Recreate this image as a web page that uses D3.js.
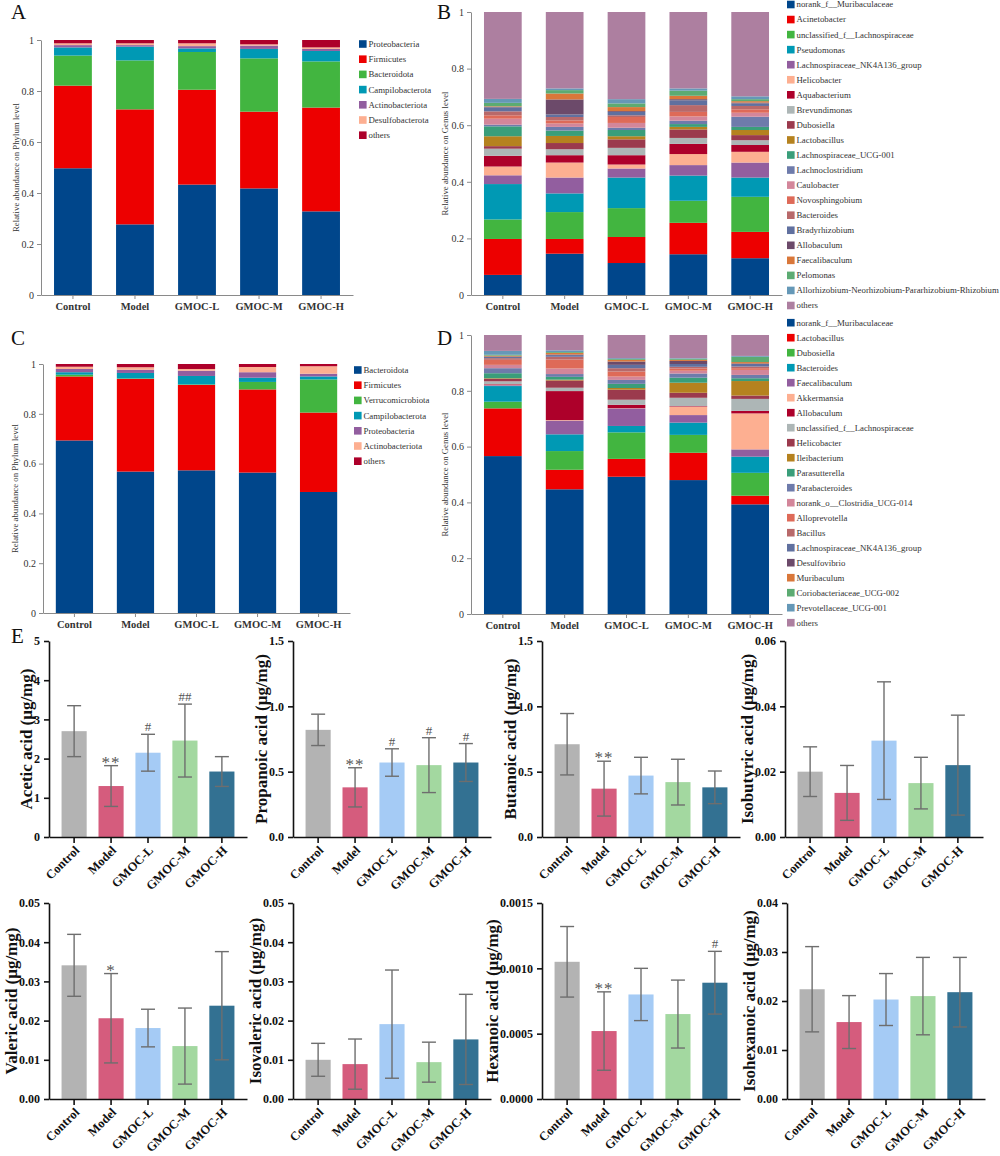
<!DOCTYPE html>
<html>
<head>
<meta charset="utf-8">
<script src="https://cdn.jsdelivr.net/npm/d3@7"></script>
<style>
body{margin:0;background:#fff}
text{font-family:"Liberation Serif","Times New Roman",serif}
</style>
</head>
<body>
<div class="fig"></div>
<script>
const groups = ['Control','Model','GMOC-L','GMOC-M','GMOC-H']

const palette = ['#00468B','#ED0000','#42B540','#0099B4','#925E9F','#FDAF91','#AD002A','#ADB6B6',
  '#9B3A4D','#B5821F','#3A9E7A','#6E7BAB','#D3869A','#DE6A58','#B8696A','#60709F',
  '#6C4A6A','#D9773A','#5CAB72','#6598B7','#AD7FA0']

// panel A - phylum
const phylumA = ['Proteobacteria','Firmicutes','Bacteroidota','Campilobacterota','Actinobacteriota','Desulfobacterota','others']
const phylumAValues = [
  [0.497,0.324,0.118,0.032,0.009,0.007,0.013],
  [0.277,0.451,0.192,0.054,0.006,0.007,0.013],
  [0.433,0.372,0.148,0.014,0.009,0.011,0.013],
  [0.418,0.301,0.209,0.037,0.013,0.005,0.017],
  [0.328,0.407,0.181,0.041,0.008,0.006,0.029]
]

// panel B - genus
const genusB = ['norank_f__Muribaculaceae','Acinetobacter','unclassified_f__Lachnospiraceae','Pseudomonas',
  'Lachnospiraceae_NK4A136_group','Helicobacter','Aquabacterium','Brevundimonas','Dubosiella','Lactobacillus',
  'Lachnospiraceae_UCG-001','Lachnoclostridium','Caulobacter','Novosphingobium','Bacteroides','Bradyrhizobium',
  'Allobaculum','Faecalibaculum','Pelomonas','Allorhizobium-Neorhizobium-Pararhizobium-Rhizobium','others']
const genusBValues = [
  [0.071,0.127,0.069,0.125,0.031,0.031,0.038,0.025,0.009,0.035,0.035,0.006,0.021,0.012,0.014,0.014,0.002,0.002,0.012,0.014,0.307],
  [0.146,0.052,0.095,0.066,0.056,0.053,0.026,0.021,0.022,0.025,0.019,0.013,0.012,0.011,0.012,0.009,0.053,0.021,0.012,0.006,0.270],
  [0.113,0.092,0.102,0.108,0.032,0.014,0.033,0.026,0.030,0.011,0.022,0.008,0.017,0.021,0.006,0.012,0.003,0.014,0.013,0.015,0.308],
  [0.144,0.111,0.078,0.089,0.037,0.039,0.036,0.021,0.030,0.009,0.010,0.012,0.015,0.016,0.024,0.017,0.004,0.012,0.018,0.008,0.270],
  [0.130,0.093,0.124,0.068,0.053,0.038,0.024,0.017,0.018,0.018,0.011,0.036,0.014,0.012,0.012,0.009,0.003,0.005,0.007,0.010,0.298]
]

// panel C - phylum
const phylumC = ['Bacteroidota','Firmicutes','Verrucomicrobiota','Campilobacterota','Proteobacteria','Actinobacteriota','others']
const phylumCValues = [
  [0.693,0.257,0.007,0.010,0.013,0.009,0.011],
  [0.568,0.372,0.002,0.022,0.013,0.010,0.013],
  [0.573,0.343,0.002,0.034,0.021,0.007,0.020],
  [0.564,0.334,0.030,0.017,0.022,0.021,0.012],
  [0.486,0.319,0.133,0.012,0.011,0.030,0.009]
]

// panel D - genus
const genusD = ['norank_f__Muribaculaceae','Lactobacillus','Dubosiella','Bacteroides','Faecalibaculum','Akkermansia',
  'Allobaculum','unclassified_f__Lachnospiraceae','Helicobacter','Ileibacterium','Parasutterella','Parabacteroides',
  'norank_o__Clostridia_UCG-014','Alloprevotella','Bacillus','Lachnospiraceae_NK4A136_group','Desulfovibrio',
  'Muribaculum','Coriobacteriaceae_UCG-002','Prevotellaceae_UCG-001','others']
const genusDValues = [
  [0.566,0.171,0.024,0.056,0.003,0.002,0.002,0.010,0.009,0.002,0.018,0.018,0.012,0.018,0.006,0.004,0.002,0.003,0.003,0.014,0.057],
  [0.447,0.070,0.067,0.060,0.049,0.002,0.104,0.012,0.026,0.003,0.010,0.010,0.020,0.032,0.010,0.006,0.002,0.006,0.003,0.006,0.055],
  [0.492,0.064,0.095,0.023,0.063,0.001,0.012,0.018,0.036,0.006,0.015,0.014,0.012,0.018,0.012,0.012,0.012,0.006,0.003,0.003,0.083],
  [0.480,0.098,0.064,0.044,0.027,0.030,0.002,0.030,0.018,0.036,0.018,0.015,0.010,0.008,0.006,0.010,0.011,0.004,0.004,0.002,0.083],
  [0.393,0.031,0.082,0.058,0.026,0.129,0.009,0.043,0.012,0.052,0.010,0.012,0.018,0.006,0.006,0.009,0.002,0.005,0.019,0.003,0.075]
]
const abundTicks = [0,0.2,0.4,0.6,0.8,1]

// panel E - SCFA
const acids = ['Acetic acid','Propanoic acid','Butanoic acid','Isobutyric acid','Valeric acid','Isovaleric acid','Hexanoic acid','Isohexanoic acid']
const acidMeans = [
  [2.70,1.30,2.15,2.46,1.67],
  [0.82,0.38,0.57,0.55,0.57],
  [0.71,0.37,0.47,0.42,0.38],
  [0.0200,0.0135,0.0295,0.0165,0.0220],
  [0.0341,0.0206,0.0181,0.0135,0.0238],
  [0.0100,0.0089,0.0191,0.0094,0.0152],
  [0.00105,0.00052,0.00080,0.00065,0.00089],
  [0.0224,0.0157,0.0203,0.0210,0.0218]
]
const acidSD = [
  [0.65,0.52,0.47,0.93,0.38],
  [0.12,0.15,0.105,0.21,0.145],
  [0.235,0.21,0.14,0.175,0.125],
  [0.0076,0.0084,0.0180,0.0079,0.0153],
  [0.0079,0.0114,0.0048,0.0097,0.0138],
  [0.0042,0.0064,0.0138,0.0051,0.0115],
  [0.00027,0.00030,0.00020,0.00026,0.00024],
  [0.0087,0.0054,0.0053,0.0079,0.0071]
]
const acidMarks = [
  ['','**','#','##',''],
  ['','**','#','#','#'],
  ['','**','','',''],
  ['','','','',''],
  ['','*','','',''],
  ['','','','',''],
  ['','**','','','#'],
  ['','','','','']
]
const acidMax = [5,1.5,1.5,0.06,0.05,0.05,0.0015,0.04]
const acidStep = [1,0.5,0.5,0.02,0.01,0.01,0.0005,0.01]
const acidFormat = ['d','.1f','.1f','.2f','.2f','.2f','.4f','.2f']
const groupColors = ['#b3b3b3','#d55c7d','#a5cbf5','#a3d8a0','#337192']

const svg = d3.select('.fig').append('svg')
  .attr('width',1000)
  .attr('height',1156)

function stackPanel(p){
  const g = svg.append('g')
  const rows = groups.map((grp,i)=>{
    const o = {group:grp}
    p.taxa.forEach((t,j)=>o[t]=p.values[i][j])
    return o
  })
  const series = d3.stack().keys(p.taxa)(rows)
  const x = d3.scaleBand().domain(groups).range([p.x0,p.x1]).paddingInner(0.39).paddingOuter(0.21)
  const y = d3.scaleLinear().domain([0,1]).range([p.y0,p.y1])
  const color = d3.scaleOrdinal().domain(p.taxa).range(palette)

  g.selectAll('g.layer').data(series).join('g')
    .attr('fill',d=>color(d.key))
    .selectAll('rect').data(d=>d).join('rect')
    .attr('x',d=>x(d.data.group))
    .attr('width',x.bandwidth())
    .attr('y',d=>y(d[1]))
    .attr('height',d=>y(d[0])-y(d[1]))

  const ya = g.append('g').attr('transform','translate('+p.x0+',0)')
    .call(d3.axisLeft(y).tickValues(abundTicks).tickSize(4).tickSizeOuter(0)
      .tickFormat(d=>(d===0||d===1)?d:d.toFixed(1)))
  const xa = g.append('g').attr('transform','translate(0,'+p.y0+')')
    .call(d3.axisBottom(x).tickSize(4).tickSizeOuter(0))
  ya.selectAll('path,line').attr('stroke','#8a8a8a')
  xa.selectAll('path,line').attr('stroke','#8a8a8a')
  ya.selectAll('text').attr('font-size',10).attr('fill','#333')
    .attr('font-family','Liberation Serif')
  xa.selectAll('text').attr('font-size',10.5).attr('font-weight','bold').attr('fill','#333')
    .attr('font-family','Liberation Serif').attr('dy','0.8em')

  g.append('text')
    .attr('transform','translate('+p.labelX+','+((p.y0+p.y1)/2)+') rotate(-90)')
    .attr('text-anchor','middle')
    .attr('font-size',8.8)
    .attr('fill','#333')
    .text(p.ylabel)

  const leg = g.selectAll('g.leg').data(p.taxa).join('g')
    .attr('transform',(d,i)=>'translate('+p.legX+','+(p.legY+i*p.legStep)+')')
  leg.append('rect').attr('x',0).attr('y',-3.8).attr('width',7.6).attr('height',7.6)
    .attr('fill',d=>color(d))
  leg.append('text').attr('x',9.5).attr('dy','0.33em')
    .attr('font-size',8.8).attr('fill','#333').text(d=>d)

  svg.append('text').attr('x',p.letterX).attr('y',p.letterY)
    .attr('font-size',21).attr('fill','#111').text(p.letter)
}

stackPanel({taxa:phylumA,values:phylumAValues,x0:41,x1:353,y0:295,y1:40,
  ylabel:'Relative abundance on Phylum level',labelX:19,legX:359,legY:44,legStep:15.2,
  letter:'A',letterX:11,letterY:19})
stackPanel({taxa:genusB,values:genusBValues,x0:471,x1:782,y0:295,y1:12,
  ylabel:'Relative abundance on Genus level',labelX:448,legX:787,legY:4.5,legStep:15.05,
  letter:'B',letterX:437,letterY:19})
stackPanel({taxa:phylumC,values:phylumCValues,x0:43,x1:350,y0:613,y1:364,
  ylabel:'Relative abundance on Phylum level',labelX:18,legX:354,legY:370,legStep:15.2,
  letter:'C',letterX:11,letterY:345})
stackPanel({taxa:genusD,values:genusDValues,x0:471,x1:782,y0:614,y1:335,
  ylabel:'Relative abundance on Genus level',labelX:448,legX:787,legY:322.7,legStep:15,
  letter:'D',letterX:437,letterY:345})

// SCFA panels
const acidX = [49,293,542,785,49,293,542,787]
const acidY0 = [837,837,837,837,1099,1099,1099,1099]
const plotH = 196

function acidPanel(k){
  const x0 = acidX[k], y0 = acidY0[k]
  const g = svg.append('g')
  const x = d3.scaleBand().domain(groups).range([x0,x0+198]).paddingInner(0.32).paddingOuter(0.34)
  const y = d3.scaleLinear().domain([0,acidMax[k]]).range([y0,y0-plotH])
  const rows = groups.map((grp,i)=>({group:grp,mean:acidMeans[k][i],sd:acidSD[k][i],mark:acidMarks[k][i],color:groupColors[i]}))

  g.selectAll('rect.bar').data(rows).join('rect')
    .attr('x',d=>x(d.group))
    .attr('width',x.bandwidth())
    .attr('y',d=>y(d.mean))
    .attr('height',d=>y0-y(d.mean))
    .attr('fill',d=>d.color)

  const cx = d=>x(d.group)+x.bandwidth()/2
  const eb = g.selectAll('g.err').data(rows).join('g').attr('stroke','#6e6e6e').attr('stroke-width',1.4)
  eb.append('line').attr('x1',cx).attr('x2',cx).attr('y1',d=>y(d.mean-d.sd)).attr('y2',d=>y(d.mean+d.sd))
  eb.append('line').attr('x1',d=>cx(d)-7).attr('x2',d=>cx(d)+7).attr('y1',d=>y(d.mean+d.sd)).attr('y2',d=>y(d.mean+d.sd))
  eb.append('line').attr('x1',d=>cx(d)-7).attr('x2',d=>cx(d)+7).attr('y1',d=>y(d.mean-d.sd)).attr('y2',d=>y(d.mean-d.sd))

  g.selectAll('text.mark').data(rows.filter(d=>d.mark)).join('text')
    .attr('x',cx)
    .attr('y',d=>y(d.mean+d.sd)+(d.mark[0]==='*'?2:-3))
    .attr('text-anchor','middle')
    .attr('font-size',d=>d.mark[0]==='*'?17:13)
    .attr('letter-spacing',d=>d.mark[0]==='*'?1:0)
    .attr('fill','#555')
    .text(d=>d.mark)

  const ticks = d3.range(0,acidMax[k]+acidStep[k]/2,acidStep[k])
  const ya = g.append('g').attr('transform','translate('+x0+',0)')
    .call(d3.axisLeft(y).tickValues(ticks).tickSize(5).tickSizeOuter(0).tickFormat(d3.format(acidFormat[k])))
  const xa = g.append('g').attr('transform','translate(0,'+y0+')')
    .call(d3.axisBottom(x).tickSize(6).tickSizeOuter(0))
  g.selectAll('path.domain,.tick line').attr('stroke','#111').attr('stroke-width',1.6)
  ya.selectAll('text').attr('font-size',12).attr('font-weight','bold').attr('fill','#111')
    .attr('font-family','Liberation Serif').attr('dx','-1')
  xa.selectAll('text').attr('font-size',12.5).attr('font-weight','bold').attr('fill','#111')
    .attr('font-family','Liberation Serif')
    .attr('text-anchor','end').attr('dy',0)
    .attr('transform','translate(6,14) rotate(-45)')
    .attr('y',0)

  const bb = ya.node().getBBox()
  g.append('text')
    .attr('transform','translate('+(x0+bb.x-2)+','+(y0-plotH/2)+') rotate(-90)')
    .attr('text-anchor','middle')
    .attr('font-size',17)
    .attr('font-weight','bold')
    .attr('fill','#111')
    .text(acids[k]+' (μg/mg)')
}
acids.forEach((a,k)=>acidPanel(k))

svg.append('text').attr('x',11).attr('y',643).attr('font-size',21).attr('fill','#111').text('E')
</script>
</body>
</html>
